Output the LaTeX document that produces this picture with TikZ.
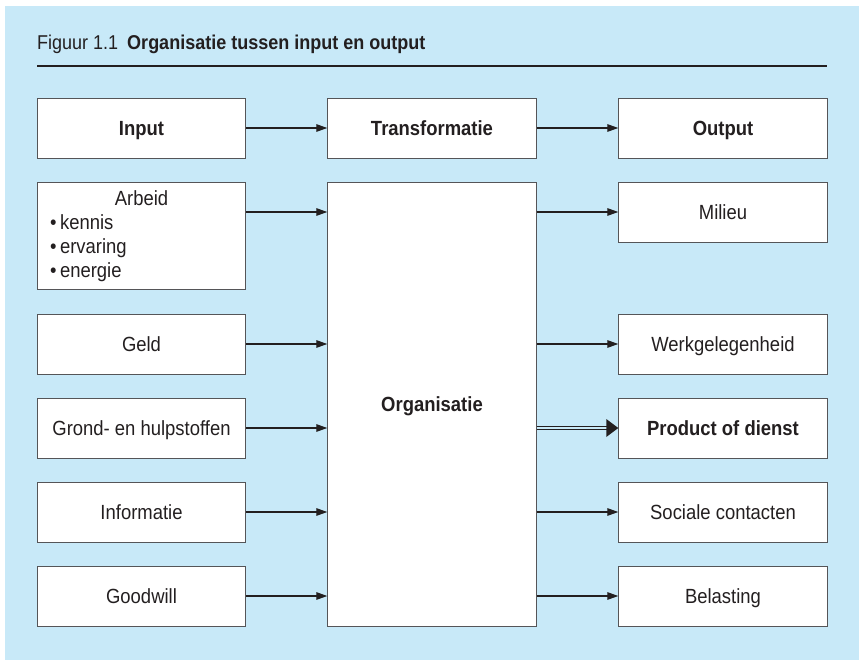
\documentclass[tikz,border=0pt]{standalone}
\usepackage{fontspec}
\setmainfont{Liberation Sans}[FakeStretch=0.9]
\usetikzlibrary{arrows.meta}

\definecolor{panelblue}{RGB}{200,233,248}
\definecolor{inkdark}{RGB}{35,31,32}
\definecolor{boxline}{RGB}{85,85,88}

\newcommand{\bodyfont}{\fontsize{20.5}{23.7}\selectfont}

\tikzset{
  box/.style={draw=boxline, fill=white, line width=0.9pt,
    minimum width=208.5pt, minimum height=60pt, inner sep=0pt,
    text height=14.7pt, text depth=0pt,
    font=\bodyfont, text=inkdark},
  flow/.style={draw=inkdark, line width=1.3pt,
    -{Triangle[length=11pt,width=7.5pt]}},
  mainflow/.style={draw=inkdark, line width=1.4pt,
    double=panelblue, double distance=1.8pt},
}

\begin{document}
\begin{tikzpicture}[x=1pt,y=-1pt]
  \useasboundingbox (0,0) rectangle (859,660);
  \fill[panelblue] (5,6) rectangle (859,660);

  % heading
  \node[anchor=base west, inner sep=0pt, text=inkdark,
        font=\fontsize{20}{24}\selectfont] (title) at (37,50)
    {Figuur 1.1\hspace{9pt}\textbf{Organisatie tussen input en output}};
  \coordinate (ruleL) at (37,66);
  \coordinate (ruleR) at (827,66);
  \draw[inkdark, line width=1.7pt] (ruleL) -- (ruleR);

  % column heads
  \node[box, font=\bodyfont\bfseries] (input) at (141.5,128) {Input};
  \node[box, font=\bodyfont\bfseries] (trans) at (432,128) {Transformatie};
  \node[box, font=\bodyfont\bfseries] (output) at (723,128) {Output};

  % inputs
  \node[box, minimum height=107pt] (arbeid) at (141.5,235.5) {};
  \node[anchor=base, inner sep=0pt, font=\bodyfont, text=inkdark]
    (arbeidlbl) at (141.5,206) {Arbeid};
  % base of a multi-line node is the baseline of its last line
  \node[anchor=base west, inner sep=0pt, align=left, font=\bodyfont,
        text=inkdark] (arbeidlist) at (50,277)
    {\textbullet\,kennis\\ \textbullet\,ervaring\\ \textbullet\,energie};
  \node[box] (geld) at (141.5,344) {Geld};
  \node[box] (grond) at (141.5,428) {Grond- en hulpstoffen};
  \node[box] (info) at (141.5,512) {Informatie};
  \node[box] (goodwill) at (141.5,596) {Goodwill};

  % organisation
  \node[box, minimum height=444pt, font=\bodyfont\bfseries] (org)
    at (432,404) {Organisatie};

  % outputs
  \node[box] (milieu) at (723,212) {Milieu};
  \node[box] (werk) at (723,344) {Werkgelegenheid};
  \node[box, font=\bodyfont\bfseries] (product) at (723,428) {Product of dienst};
  \node[box] (sociaal) at (723,512) {Sociale contacten};
  \node[box] (belasting) at (723,596) {Belasting};

  % connectors
  \draw[flow] (input) -- (trans);
  \draw[flow] (trans) -- (output);

  \draw[flow] (arbeid.east |- milieu.west) -- (org.west |- milieu.west);
  \draw[flow] (geld) -- (org.west |- geld.east);
  \draw[flow] (grond) -- (org.west |- grond.east);
  \draw[flow] (info) -- (org.west |- info.east);
  \draw[flow] (goodwill) -- (org.west |- goodwill.east);

  \draw[flow] (org.east |- milieu.west) -- (milieu);
  \draw[flow] (org.east |- werk.west) -- (werk);
  \draw[flow] (org.east |- sociaal.west) -- (sociaal);
  \draw[flow] (org.east |- belasting.west) -- (belasting);

  % main product flow: double line with a large head
  \coordinate (prodtip) at ([xshift=-10pt]product.west);
  \draw[mainflow] (org.east |- product.west) -- (prodtip);
  \fill[inkdark] (product.west) -- ++(-12pt,9pt) -- ++(0,-18pt) -- cycle;
\end{tikzpicture}
\end{document}
